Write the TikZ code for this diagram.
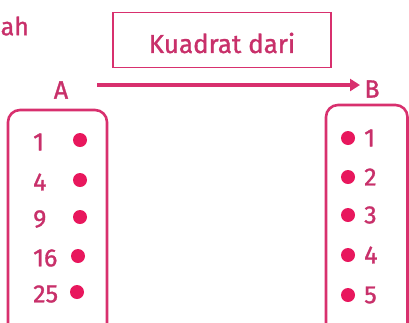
\documentclass[tikz,border=0pt]{standalone}
\usepackage{fontspec}
\setmainfont{Fira Sans}[FakeBold=1.2]
\usetikzlibrary{arrows.meta}
\definecolor{pinkline}{HTML}{D8306E}
\definecolor{pinktext}{HTML}{C8306A}
\definecolor{pinkdot}{HTML}{E8175D}
\tikzset{
  lbl/.style={text=pinktext, font=\fontsize{25}{28}\selectfont, inner sep=0pt},
  setbox/.style={draw=pinkline, line width=2.6pt, rounded corners=12pt},
  dot/.style={circle, fill=pinkdot, minimum size=14pt, inner sep=0pt},
  numl/.style={lbl, anchor=west},
}
\begin{document}
\begin{tikzpicture}[x=1pt,y=-1pt]
\useasboundingbox (0,0) rectangle (409,322);
\clip (0,0) rectangle (409,322);
\node[lbl, anchor=west] (ah) at (0.5,26) {ah};
\node[draw=pinkline, line width=1.8pt, minimum width=218pt, minimum height=55pt, inner sep=0pt] (fbox) at (222,40) {};
\node[lbl, font=\fontsize{26}{28}\selectfont] (ftext) at (222,43) {Kuadrat dari};
\node[lbl] (A) at (61,90) {A};
\node[lbl] (B) at (372,89) {B};
\draw[pinkline, line width=3.4pt, -{Triangle[length=10pt,width=12pt]}] (97,85) -- (360,85);
\draw[setbox] (8,110) rectangle (107,345);
\draw[setbox] (326,105) rectangle (407.5,345);
% left set
\foreach \n/\y/\dx in {1/142/80, 4/182/80, 9/219/80, 16/258/78, 25/294/77}{
  \node[numl] (a\n) at (33,\y) {\n};
  \node[dot] (da\n) at (\dx,\y-2) {};
}
% right set
\foreach \n/\y in {1/138, 2/177, 3/215, 4/255, 5/295}{
  \node[dot] (db\n) at (348,\y) {};
  \node[numl] (b\n) at (364,\y) {\n};
}
\end{tikzpicture}
\end{document}
